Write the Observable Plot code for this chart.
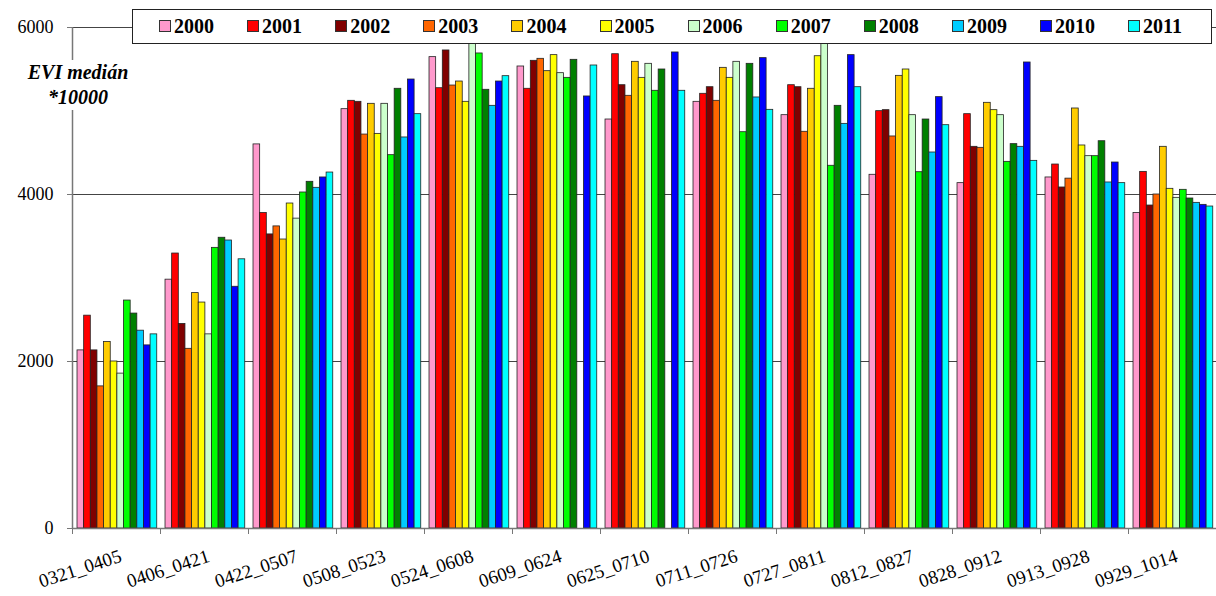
<!DOCTYPE html>
<html><head><meta charset="utf-8">
<script src="https://cdn.jsdelivr.net/npm/d3@7"></script>
<script src="https://cdn.jsdelivr.net/npm/@observablehq/plot@0.6"></script>
<style>
body{margin:0;background:#fff;}
#wrap{position:relative;width:1216px;height:596px;font-family:'Liberation Serif','Times New Roman','DejaVu Serif',serif;}
#legend{position:absolute;left:132px;top:9px;width:1080px;height:35px;border:1.5px solid #222;background:#fff;box-sizing:border-box;}
.item{position:absolute;top:0;height:32px;display:flex;align-items:center;font-family:'Liberation Serif','Times New Roman','DejaVu Serif',serif;font-weight:bold;font-size:20px;color:#000;}
.sw{width:10px;height:10px;border:1px solid #333;margin-right:3px;}
#ylab{position:absolute;left:14px;top:60px;width:128px;text-align:center;font-family:'Liberation Serif','Times New Roman','DejaVu Serif',serif;font-weight:bold;font-style:italic;font-size:20px;line-height:25px;background:#fff;}
</style>
</head><body>
<div id="wrap">
<div id="chart"></div>
<div id="legend"></div>
<div id="ylab">EVI medián<br>*10000</div>
</div>
<script>
const periods = ["0321_0405","0406_0421","0422_0507","0508_0523","0524_0608","0609_0624","0625_0710","0711_0726","0727_0811","0812_0827","0828_0912","0913_0928","0929_1014"];
const years = ["2000","2001","2002","2003","2004","2005","2006","2007","2008","2009","2010","2011"];
const colors = ["#FF99CC","#FF0000","#800000","#FF6600","#FFCC00","#FFFF00","#CCFFCC","#00FF00","#008000","#00CCFF","#0000FF","#00FFFF"];
const yTicks = [0, 2000, 4000, 6000];

const v2000 = [2133, 2980, 4600, 5022, 5645, 5533, 4898, 5110, 4950, 4236, 4136, 4204, 3779];
const v2001 = [2549, 3293, 3778, 5122, 5273, 5266, 5680, 5206, 5309, 4998, 4962, 4359, 4271];
const v2002 = [2133, 2450, 3522, 5110, 5725, 5601, 5309, 5285, 5285, 5010, 4571, 4084, 3868];
const v2003 = [1702, 2152, 3618, 4718, 5305, 5625, 5182, 5122, 4751, 4695, 4559, 4190, 4000];
const v2004 = [2233, 2819, 3461, 5086, 5353, 5477, 5589, 5517, 5266, 5421, 5098, 5030, 4571];
const v2005 = [2000, 2706, 3892, 4726, 5110, 5669, 5397, 5397, 5656, 5497, 5010, 4587, 4068];
const v2006 = [1855, 2325, 3711, 5086, 6000, 5453, 5565, 5589, 6000, 4950, 4950, 4459, 3960];
const v2007 = [2730, 3361, 4024, 4471, 5689, 5397, 5242, 4746, 4344, 4267, 4391, 4459, 4056];
const v2008 = [2574, 3482, 4152, 5266, 5254, 5613, 5497, 5565, 5062, 4898, 4603, 4638, 3952];
const v2009 = [2369, 3449, 4080, 4683, 5062, null, null, 5162, 4846, 4503, 4571, 4144, 3900];
const v2010 = [2193, 2895, 4204, 5377, 5353, 5174, 5701, 5633, 5669, 5166, 5581, 4383, 3876];
const v2011 = [2325, 3224, 4263, 4962, 5417, 5545, 5242, 5014, 5285, 4830, 4403, 4136, 3856];

const series = [v2000,v2001,v2002,v2003,v2004,v2005,v2006,v2007,v2008,v2009,v2010,v2011];
const rows = [];
periods.forEach((p, g) => years.forEach((yr, k) => {
  const v = series[k][g];
  if (v != null) rows.push({g, k, period: p, year: yr, value: v});
}));

const FONT = "'Liberation Serif', 'Times New Roman', 'DejaVu Serif', serif";
const padL = 0.057, bw = 0.0755;
const chart = Plot.plot({
  width: 1216, height: 596,
  marginLeft: 72, marginRight: 0, marginTop: 27, marginBottom: 68,
  style: {fontFamily: FONT, fontSize: "18px", background: "#fff"},
  x: {domain: [0, periods.length], axis: null},
  y: {domain: [0, 6000], axis: null},
  color: {type: "ordinal", domain: years, range: colors},
  marks: [
    Plot.ruleY(yTicks.filter(d => d > 0), {stroke: "#444", strokeWidth: 1}),
    Plot.rectY(rows, {
      x1: d => d.g + padL + d.k * bw,
      x2: d => d.g + padL + (d.k + 1) * bw,
      y: "value", fill: "year", stroke: "#222", strokeWidth: 0.8
    }),
    Plot.ruleX([0], {stroke: "#777", strokeWidth: 1.5}),
    Plot.ruleY([0], {stroke: "#777", strokeWidth: 1.5}),
    Plot.axisY({ticks: yTicks, tickFormat: d => String(d), tickSize: 5, tickPadding: 14, fontSize: 18, fontFamily: FONT, label: null, stroke: "#777"}),
    Plot.axisX({ticks: d3.range(0, periods.length + 1), tickFormat: () => "", tickSize: 6, label: null, stroke: "#777"}),
    Plot.text(periods, {x: (d, i) => i + 0.5, y: 0, text: d => d, rotate: -18, textAnchor: "end", lineAnchor: "top", dy: 20, dx: 2, fontSize: 19, fontFamily: FONT, fill: "#000"})
  ]
});
document.getElementById("chart").appendChild(chart);

const legend = document.getElementById("legend");
years.forEach((yr, i) => {
  const it = document.createElement("div");
  it.className = "item";
  it.style.left = (26 + i * 88.1) + "px";
  const sw = document.createElement("span");
  sw.className = "sw";
  sw.style.background = colors[i];
  it.appendChild(sw);
  it.appendChild(document.createTextNode(yr));
  legend.appendChild(it);
});
</script>
</body></html>
